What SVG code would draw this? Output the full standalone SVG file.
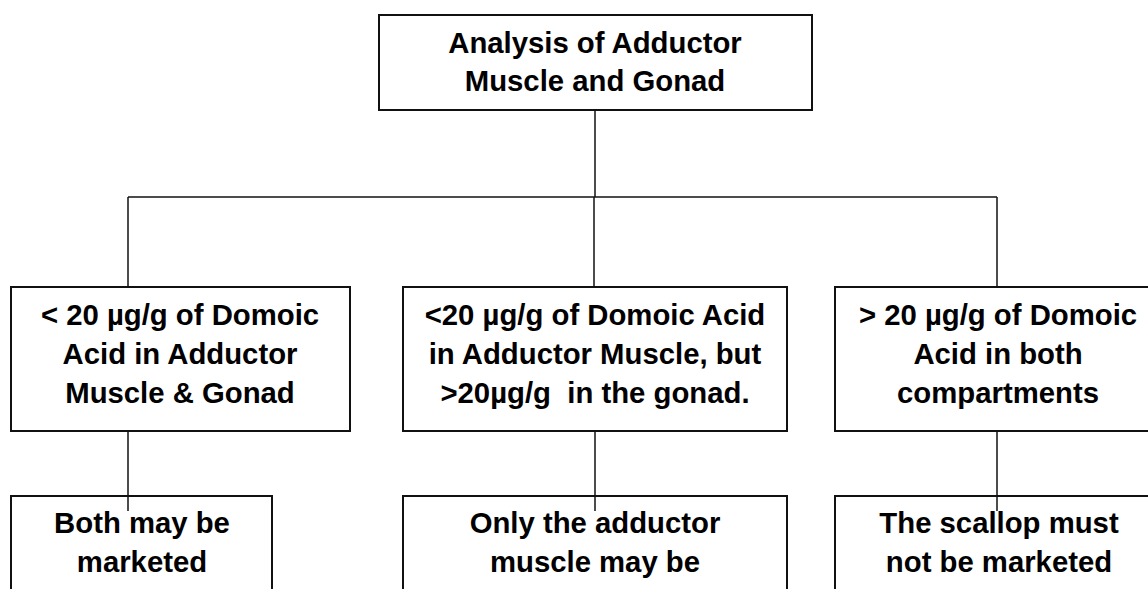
<svg xmlns="http://www.w3.org/2000/svg" width="1148" height="589" viewBox="0 0 1148 589">
  <style>
    .box { fill: #ffffff; stroke: #111111; stroke-width: 2; }
    .link { fill: none; stroke: #111111; stroke-width: 1.5; }
    .label { font-family: "Liberation Sans", Arial, sans-serif; font-weight: bold; font-size: 29.3px; fill: #000000; text-anchor: middle; }
  </style>
  <rect width="1148" height="589" fill="#ffffff"/>

  <!-- root -->
  <g id="root">
    <rect class="box" x="379" y="15" width="433" height="95"/>
    <text class="label" x="595" y="53">Analysis of Adductor</text>
    <text class="label" x="595" y="91">Muscle and Gonad</text>
  </g>

  <!-- result categories -->
  <g id="low-both">
    <rect class="box" x="11" y="287" width="339" height="144"/>
    <text class="label" x="180" y="325">&lt; 20 µg/g of Domoic</text>
    <text class="label" x="180" y="364">Acid in Adductor</text>
    <text class="label" x="180" y="403">Muscle &amp; Gonad</text>
  </g>
  <g id="high-gonad">
    <rect class="box" x="403" y="287" width="384" height="144"/>
    <text class="label" x="595" y="325">&lt;20 µg/g of Domoic Acid</text>
    <text class="label" x="595" y="364">in Adductor Muscle, but</text>
    <text class="label" x="595" y="403" xml:space="preserve">&gt;20µg/g  in the gonad.</text>
  </g>
  <g id="high-both">
    <rect class="box" x="835" y="287" width="340" height="144"/>
    <text class="label" x="998" y="325">&gt; 20 µg/g of Domoic</text>
    <text class="label" x="998" y="364">Acid in both</text>
    <text class="label" x="998" y="403">compartments</text>
  </g>

  <!-- decisions -->
  <g id="market-both">
    <rect class="box" x="11" y="496" width="261" height="120"/>
    <text class="label" x="142" y="533">Both may be</text>
    <text class="label" x="142" y="572">marketed</text>
  </g>
  <g id="market-adductor">
    <rect class="box" x="403" y="496" width="384" height="120"/>
    <text class="label" x="595" y="533">Only the adductor</text>
    <text class="label" x="595" y="572">muscle may be</text>
  </g>
  <g id="market-none">
    <rect class="box" x="835" y="496" width="340" height="120"/>
    <text class="label" x="999" y="533">The scallop must</text>
    <text class="label" x="999" y="572">not be marketed</text>
  </g>

  <!-- connectors -->
  <g id="connectors">
    <path class="link" d="M595 110 V197"/>
    <path class="link" d="M128 197 H997"/>
    <path class="link" d="M128 197 V287"/>
    <path class="link" d="M594 197 V287"/>
    <path class="link" d="M997 197 V287"/>
    <path class="link" d="M128 431 V511"/>
    <path class="link" d="M595 431 V511"/>
    <path class="link" d="M997 431 V511"/>
  </g>
</svg>
